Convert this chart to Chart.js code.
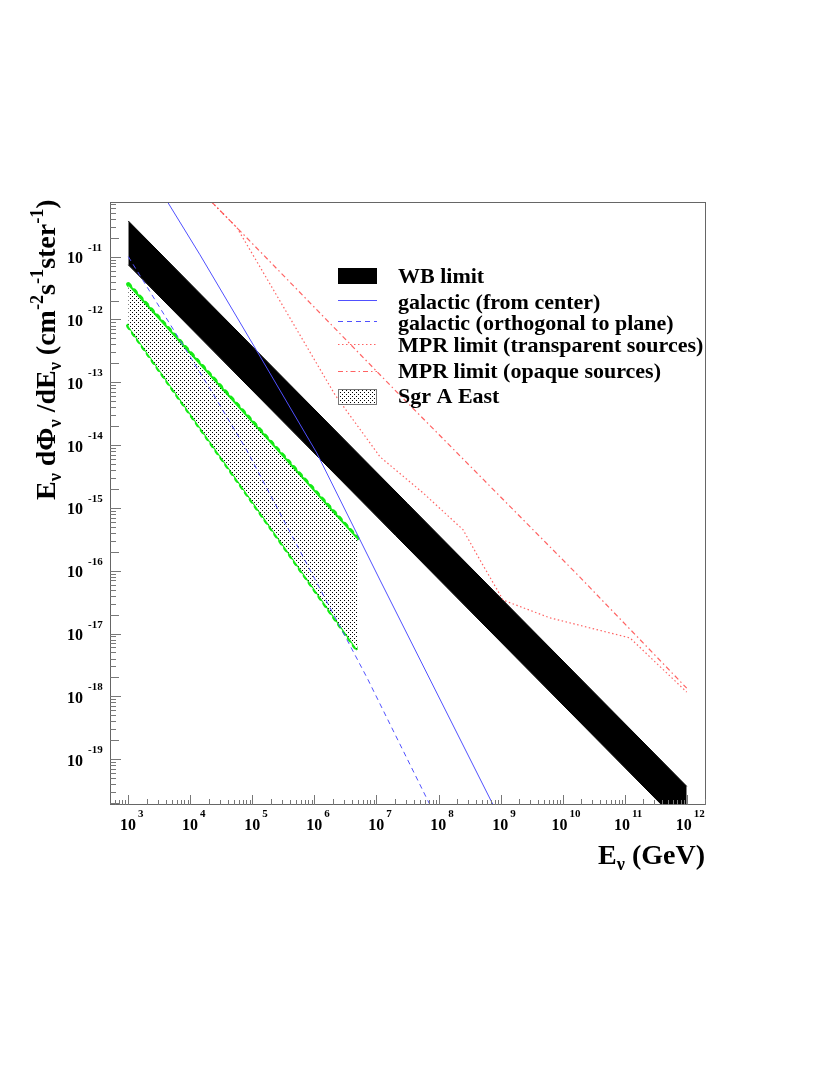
<!DOCTYPE html>
<html>
<head>
<meta charset="utf-8">
<script src="https://cdn.jsdelivr.net/npm/chart.js@4.4.1/dist/chart.umd.min.js"></script>
<style>body{margin:0;background:#fff}</style>
</head>
<body>
<canvas id="fluxChart" width="830" height="1075"></canvas>
<script>
// energies in GeV, E dPhi/dE in cm^-2 s^-1 ster^-1
const wbE = [1e3, 1e12];
const wbUpper = [3.7e-11, 3.7e-20];
const wbLower = [7.4e-12, 7.4e-21];

const galCenterE = [4.3e3, 1.43e4, 1.17e5, 1.09e6, 1.14e7, 7.6e8];
const galCenterFlux = [7.4e-11, 1.07e-11, 3.2e-13, 7.5e-15, 7.1e-17, 1.86e-20];

const galOrthE = [1e3, 2.07e4, 8.1e4, 7.0e6, 7.3e7];
const galOrthFlux = [1.0e-11, 7.9e-14, 8.3e-15, 2.0e-18, 1.86e-20];

const mprTranspE = [2.21e4, 5.65e4, 2.15e6, 1.14e7, 5.6e7, 2.48e8, 4.66e8, 1.1e9, 6.2e9, 1.22e11, 1e12];
const mprTranspFlux = [7.4e-11, 2.88e-11, 6.3e-14, 6.5e-15, 1.74e-15, 4.5e-16, 1.48e-16, 3.4e-17, 1.78e-17, 8.5e-18, 1.17e-18];

const mprOpaqueE = [2.21e4, 5.65e4, 1.84e7, 1.9e10, 1e12];
const mprOpaqueFlux = [7.4e-11, 2.88e-11, 8.1e-14, 7.9e-17, 1.35e-18];

const sgrE = [1e3, 4.9e6];
const sgrUpper = [3.63e-12, 3.3e-16];
const sgrLower = [7.9e-13, 5.5e-18];

const xExponents = [3, 4, 5, 6, 7, 8, 9, 10, 11, 12];
const yExponents = [-11, -12, -13, -14, -15, -16, -17, -18, -19];

const legendLabels = [
  "WB limit",
  "galactic (from center)",
  "galactic (orthogonal to plane)",
  "MPR limit (transparent sources)",
  "MPR limit (opaque sources)",
  "Sgr A East",
];

const FONT = '"Liberation Serif", "Times New Roman", serif';
const RED = "rgba(255,70,70,0.85)";
const BLUE = "rgb(80,80,255)";
const GREEN = "rgb(20,235,20)";

const pts = (xs, ys) => xs.map((x, i) => ({ x: x, y: ys[i] }));

const canvas = document.getElementById("fluxChart");
const ctx = canvas.getContext("2d");

// dotted hatch for Sgr A East
const tile = document.createElement("canvas");
tile.width = 4;
tile.height = 4;
const tctx = tile.getContext("2d");
tctx.fillStyle = "#fff";
tctx.fillRect(0, 0, 4, 4);
tctx.fillStyle = "#000";
tctx.fillRect(0, 0, 1, 1);
tctx.fillRect(2, 2, 1, 1);
const dots = ctx.createPattern(tile, "repeat");

function richWidth(c, parts, size) {
  let w = 0;
  parts.forEach((p) => {
    c.font = "bold " + (p.s ? size * 0.65 : size) + "px " + FONT;
    w += c.measureText(p.t).width;
  });
  return w;
}

function drawRich(c, parts, x, y, size) {
  parts.forEach((p) => {
    const fs = p.s ? size * 0.65 : size;
    c.font = "bold " + fs + "px " + FONT;
    let dy = 0;
    if (p.s === "sub") dy = size * 0.22;
    if (p.s === "sup") dy = -size * 0.42;
    c.fillText(p.t, x, y + dy);
    x += c.measureText(p.t).width;
  });
}

const decor = {
  id: "decor",
  afterDraw(chart) {
    const c = chart.ctx;
    const a = chart.chartArea;
    const xs = chart.scales.x;
    const ys = chart.scales.y;
    c.save();

    // frame
    c.strokeStyle = "#666";
    c.lineWidth = 1;
    c.strokeRect(a.left + 0.5, a.top + 0.5, a.right - a.left - 1, a.bottom - a.top - 1);

    // ticks
    c.strokeStyle = "#777";
    c.beginPath();
    for (let d = -21; d <= -10; d++) {
      for (let m = 1; m <= 9; m++) {
        const v = m * Math.pow(10, d);
        if (v < ys.min || v > ys.max) continue;
        const py = Math.round(ys.getPixelForValue(v)) + 0.5;
        const len = m === 1 ? 11 : m === 2 ? 9 : 6;
        c.moveTo(a.left, py);
        c.lineTo(a.left + len, py);
      }
    }
    for (let d = 2; d <= 12; d++) {
      for (let m = 1; m <= 9; m++) {
        const v = m * Math.pow(10, d);
        if (v < xs.min || v > xs.max) continue;
        const px = Math.round(xs.getPixelForValue(v)) + 0.5;
        const len = m === 1 ? 10 : m === 2 ? 6 : 5;
        c.moveTo(px, a.bottom);
        c.lineTo(px, a.bottom - len);
      }
    }
    c.stroke();

    // tick labels
    c.fillStyle = "#000";
    c.textBaseline = "alphabetic";
    yExponents.forEach((n) => {
      const py = ys.getPixelForValue(Math.pow(10, n));
      c.font = "bold 16px " + FONT;
      c.textAlign = "right";
      c.fillText("10", 83, py + 6.5);
      c.font = "bold 11px " + FONT;
      c.textAlign = "left";
      c.fillText(String(n), 88, py - 6);
    });
    xExponents.forEach((n) => {
      const px = xs.getPixelForValue(Math.pow(10, n));
      c.textAlign = "left";
      c.font = "bold 16px " + FONT;
      const w10 = c.measureText("10").width;
      c.font = "bold 11px " + FONT;
      const we = c.measureText(String(n)).width;
      const left = px + 3.5 - (w10 + 2 + we) / 2;
      c.font = "bold 16px " + FONT;
      c.fillText("10", left, 830);
      c.font = "bold 11px " + FONT;
      c.fillText(String(n), left + w10 + 2, 817);
    });

    // axis titles
    c.textAlign = "left";
    const yTitle = [
      { t: "E" }, { t: "\u03bd", s: "sub" }, { t: " d\u03a6" }, { t: "\u03bd", s: "sub" },
      { t: " /dE" }, { t: "\u03bd", s: "sub" }, { t: " (cm" }, { t: "-2", s: "sup" },
      { t: "s" }, { t: "-1", s: "sup" }, { t: "ster" }, { t: "-1", s: "sup" }, { t: ")" },
    ];
    c.save();
    c.translate(55, 500);
    c.rotate(-Math.PI / 2);
    drawRich(c, yTitle, 0, 0, 28);
    c.restore();

    const xTitle = [{ t: "E" }, { t: "\u03bd", s: "sub" }, { t: " (GeV)" }];
    const xw = richWidth(c, xTitle, 28);
    drawRich(c, xTitle, 705 - xw, 864, 28);

    // legend
    const lx = 338, lw = 39;
    c.fillStyle = "#000";
    c.fillRect(lx, 268, lw, 16);
    c.lineWidth = 1;
    const legLine = (yy, col, dash) => {
      c.strokeStyle = col;
      c.setLineDash(dash);
      c.beginPath();
      c.moveTo(lx, yy);
      c.lineTo(lx + lw, yy);
      c.stroke();
    };
    legLine(300.5, BLUE, []);
    legLine(321.5, BLUE, [5, 4]);
    legLine(344.5, RED, [1.5, 2.5]);
    legLine(371.5, RED, [5, 3, 1.5, 3]);
    c.setLineDash([]);
    c.fillStyle = dots;
    c.fillRect(lx, 389, lw, 16);
    c.strokeStyle = "#777";
    c.strokeRect(lx + 0.5, 389.5, lw - 1, 15);

    const baselines = [283, 309, 330, 352, 378, 403];
    c.fillStyle = "#000";
    c.font = "bold 22px " + FONT;
    legendLabels.forEach((t, i) => c.fillText(t, 398, baselines[i]));

    c.restore();
  },
};

const fluxChart = new Chart(ctx, {
  type: "line",
  data: {
    datasets: [
      {
        label: "MPR limit (transparent sources)",
        data: pts(mprTranspE, mprTranspFlux),
        borderColor: RED,
        borderWidth: 1.2,
        borderDash: [1.5, 2.5],
        fill: false,
        order: 1,
      },
      {
        label: "MPR limit (opaque sources)",
        data: pts(mprOpaqueE, mprOpaqueFlux),
        borderColor: RED,
        borderWidth: 1.2,
        borderDash: [5, 3, 1.5, 3],
        fill: false,
        order: 1,
      },
      {
        label: "galactic (from center)",
        data: pts(galCenterE, galCenterFlux),
        borderColor: BLUE,
        borderWidth: 1,
        fill: false,
        order: 2,
      },
      {
        label: "galactic (orthogonal to plane)",
        data: pts(galOrthE, galOrthFlux),
        borderColor: BLUE,
        borderWidth: 1,
        borderDash: [5, 4],
        fill: false,
        order: 2,
      },
      {
        label: "Sgr A East",
        data: pts(sgrE, sgrUpper),
        borderColor: GREEN,
        borderWidth: 2,
        backgroundColor: dots,
        fill: "+1",
        order: 3,
      },
      {
        label: "Sgr A East low",
        data: pts(sgrE, sgrLower),
        borderColor: GREEN,
        borderWidth: 2,
        fill: false,
        order: 3,
      },
      {
        label: "Sgr A East bumps",
        data: pts(sgrE, sgrUpper),
        borderColor: GREEN,
        borderWidth: 4.5,
        borderDash: [2.5, 6],
        borderCapStyle: "round",
        fill: false,
        order: 3,
      },
      {
        label: "Sgr A East bumps low",
        data: pts(sgrE, sgrLower),
        borderColor: GREEN,
        borderWidth: 4.5,
        borderDash: [2.5, 6],
        borderCapStyle: "round",
        fill: false,
        order: 3,
      },
      {
        label: "WB limit",
        data: pts(wbE, wbUpper),
        borderColor: "#000",
        borderWidth: 1,
        backgroundColor: "#000",
        fill: "+1",
        order: 5,
      },
      {
        label: "WB limit low",
        data: pts(wbE, wbLower),
        borderColor: "#000",
        borderWidth: 1,
        fill: false,
        order: 5,
      },
    ],
  },
  options: {
    responsive: false,
    animation: false,
    devicePixelRatio: 1,
    layout: { padding: { left: 110, top: 202, right: 124, bottom: 270 } },
    elements: { point: { radius: 0 }, line: { tension: 0 } },
    datasets: { line: { clip: 0 } },
    scales: {
      x: { type: "logarithmic", display: false, min: Math.pow(10, 2.705), max: Math.pow(10, 12.311) },
      y: { type: "logarithmic", display: false, min: Math.pow(10, -19.73), max: Math.pow(10, -10.13) },
    },
    plugins: {
      legend: { display: false },
      tooltip: { enabled: false },
    },
  },
  plugins: [decor],
});
</script>
</body>
</html>
